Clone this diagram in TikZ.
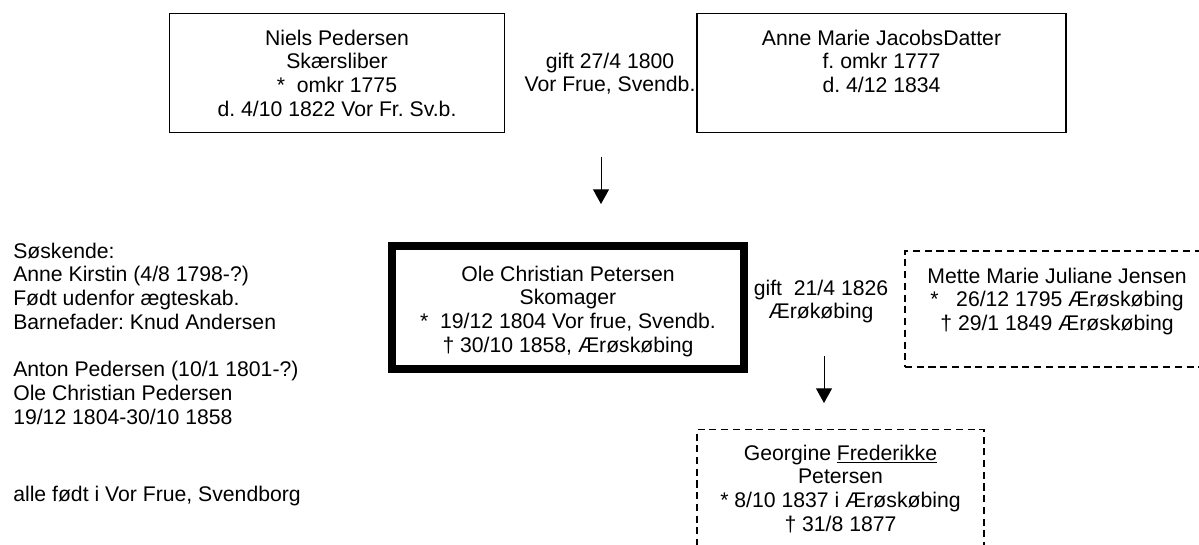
\documentclass[tikz,border=0pt]{standalone}
\usepackage{fontspec}
\setmainfont{Liberation Sans}
\usetikzlibrary{arrows.meta}
\frenchspacing

\tikzset{
  box/.style={draw, line width=1pt, minimum height=89.25pt, inner sep=0pt},
  mainbox/.style={draw, line width=6pt, inner sep=0pt},
  dashbox/.style={draw, line width=1pt, dash pattern=on 5.3pt off 3.5pt, inner sep=0pt},
  txt/.style={align=center, anchor=north, inner sep=0pt},
  arr/.style={-{Triangle[width=12pt,length=11pt]}, line width=0.75pt}
}

\begin{document}
\begin{tikzpicture}[x=0.75pt,y=-0.75pt,font=\fontsize{15.9}{17.8}\selectfont]
\useasboundingbox (0,0) rectangle (1199,545);

% foraeldre
\node[box, minimum width=251.25pt] (niels) at (337,73) {};
\node[txt] (nielstxt) at (337,29.4) {Niels Pedersen\\Skærsliber\\*\ \ omkr 1775\\d. 4/10 1822 Vor Fr. Sv.b.};
\node[box, minimum width=276.75pt] (anne) at (881.5,73) {};
\node[txt] (annetxt) at (881.5,29.4) {Anne Marie JacobsDatter\\f. omkr 1777\\d. 4/12 1834};
\node[txt] (gift1) at (610,52.4) {gift 27/4 1800\\Vor Frue, Svendb.};

\coordinate (a1s) at (601,157);
\coordinate (a1e) at (601,204);
\draw[arr] (a1s)--(a1e);

% Ole Christian
\node[mainbox, minimum width=264pt, minimum height=92.25pt] (ole) at (568,307.5) {};
\node[txt] (oletxt) at (568,265.4) {Ole Christian Petersen\\Skomager\\*\ \ 19/12 1804 Vor frue, Svendb.\\† 30/10 1858, Ærøskøbing};
\node[txt] (gift2) at (821,279.4) {gift\ \ 21/4 1826\\Ærøkøbing};
\node[dashbox, minimum width=243.75pt, minimum height=87pt] (mette) at (1067.5,309) {};
\node[txt] (mettetxt) at (1057,267.4) {Mette Marie Juliane Jensen\\*\ \ \ 26/12 1795 Ærøskøbing\\† 29/1 1849 Ærøskøbing};

\node[txt, anchor=north west, align=left] (soskende) at (13,242.4) {Søskende:\\Anne Kirstin (4/8 1798-?)\\Født udenfor ægteskab.\\Barnefader: Knud Andersen\\[17.8pt]Anton Pedersen (10/1 1801-?)\\Ole Christian Pedersen\\19/12 1804-30/10 1858};
\node[txt, anchor=north west, align=left] (note) at (13,485.4) {alle født i Vor Frue, Svendborg};

\coordinate (a2s) at (824,356);
\coordinate (a2e) at (824,403);
\draw[arr] (a2s)--(a2e);

% barn
\node[dashbox, minimum width=215.25pt, minimum height=94.5pt] (georgine) at (840.5,492.5) {};
\node[txt] (georginetxt) at (840.5,444.4) {Georgine \underline{Frederikke}\\Petersen\\* 8/10 1837 i Ærøskøbing\\† 31/8 1877};
\end{tikzpicture}
\end{document}
